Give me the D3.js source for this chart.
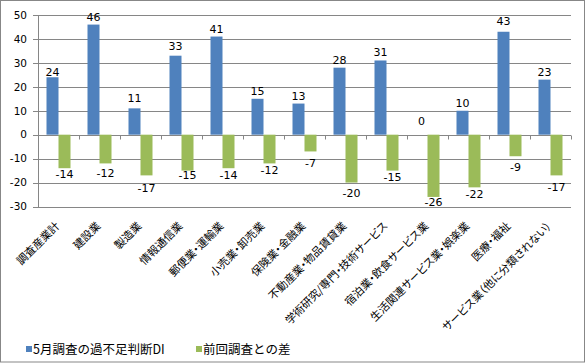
<!DOCTYPE html>
<html lang="ja">
<head>
<meta charset="UTF-8">
<title>過不足判断DI</title>
<script src="https://cdnjs.cloudflare.com/ajax/libs/d3/7.8.5/d3.min.js"></script>
<style>
  body { margin: 0; background: #fff; }
  svg text { font-family: "Noto Sans CJK JP", "DejaVu Sans", sans-serif; fill: #000; }
  svg text.num { font-family: "DejaVu Sans", sans-serif; }
  svg text.cat { font-feature-settings: "palt"; }
</style>
</head>
<body>
<svg id="chart" width="586" height="363"></svg>
<script>
// categories and series
const categories = [
  "調査産業計", "建設業", "製造業", "情報通信業", "郵便業・運輸業", "小売業・卸売業",
  "保険業・金融業", "不動産業・物品賃貸業", "学術研究/専門・技術サービス",
  "宿泊業・飲食サービス業", "生活関連サービス業・娯楽業", "医療・福祉",
  "サービス業（他に分類されない）"
];
const diValues = [24, 46, 11, 33, 41, 15, 13, 28, 31, 0, 10, 43, 23];
const diffValues = [-14, -12, -17, -15, -14, -12, -7, -20, -15, -26, -22, -9, -17];
const seriesNames = ["5月調査の過不足判断DI", "前回調査との差"];
const yTicks = [-30, -20, -10, 0, 10, 20, 30, 40, 50];

// label gap from bar end, px (the original labels sit unevenly)
const diLabelGap = [1.5, 3.5, 6.5, 6, 3.5, 3.5, 3.5, 4, 4, 9.5, 3.5, 6.5, 3.5];
const diffLabelGap = [10, 13.5, 16.5, 8.5, 10.5, 11, 16, 14.5, 10, 9.5, 11, 14.5, 15.5];

const colors = ["#4f81bd", "#9bbb59"];
const gridColor = "#868686";

const svg = d3.select("#chart");

// outer frame
svg.append("rect")
  .attr("x", 0.5).attr("y", 0.5)
  .attr("width", 584).attr("height", 361.5)
  .attr("fill", "none").attr("stroke", "#878787");

const plotL = 38, plotR = 571, plotT = 15, plotB = 207;

const y = d3.scaleLinear().domain([-30, 50]).range([plotB - 0.5, plotT]);
const x = d3.scaleBand().domain(categories).range([plotL, plotR]).paddingInner(0).paddingOuter(0);
const inner = d3.scaleBand().domain([0, 1]).range([8.5, x.bandwidth() - 8.5]);

// gridlines
svg.append("g")
  .selectAll("line")
  .data(yTicks)
  .join("line")
  .attr("x1", plotL - 5).attr("x2", plotR)
  .attr("y1", d => Math.round(y(d)) + 0.5).attr("y2", d => Math.round(y(d)) + 0.5)
  .attr("stroke", gridColor);

// y axis line
svg.append("line")
  .attr("x1", plotL + 0.5).attr("x2", plotL + 0.5)
  .attr("y1", plotT).attr("y2", Math.round(y(-30)) + 0.5)
  .attr("stroke", gridColor);

// y tick labels
svg.append("g")
  .selectAll("text")
  .data(yTicks)
  .join("text")
  .attr("class", "num")
  .attr("x", 27)
  .attr("y", d => y(d))
  .attr("dy", "0.36em")
  .attr("text-anchor", "end")
  .attr("font-size", 10.5)
  .text(d => d);

// x axis ticks at zero line
const zeroY = Math.round(y(0)) + 0.5;
svg.append("g")
  .selectAll("line")
  .data(d3.range(categories.length + 1))
  .join("line")
  .attr("x1", i => Math.round(plotL + i * x.bandwidth()) + 0.5)
  .attr("x2", i => Math.round(plotL + i * x.bandwidth()) + 0.5)
  .attr("y1", zeroY).attr("y2", zeroY + 4)
  .attr("stroke", gridColor);

// bars
const series = [diValues, diffValues];
const gaps = [diLabelGap, diffLabelGap];
series.forEach((vals, s) => {
  const g = svg.append("g");
  g.selectAll("rect")
    .data(vals)
    .join("rect")
    .attr("x", (d, i) => x(categories[i]) + inner(s))
    .attr("width", inner.bandwidth())
    .attr("y", d => y(Math.max(0, d)))
    .attr("height", d => Math.abs(y(d) - y(0)))
    .attr("fill", colors[s]);

  g.selectAll("text")
    .data(vals)
    .join("text")
    .attr("class", "num")
    .attr("x", (d, i) => x(categories[i]) + inner(s) + inner.bandwidth() / 2)
    .attr("y", (d, i) => s === 0 ? y(d) - gaps[s][i] : y(d) + gaps[s][i])
    .attr("text-anchor", "middle")
    .attr("font-size", 11)
    .text(d => d);
});

// rotated category labels
svg.append("g")
  .selectAll("text")
  .data(categories)
  .join("text")
  .attr("class", "cat")
  .attr("transform", d => `translate(${x(d) + x.bandwidth() / 2 - 1},${plotB + 17}) rotate(-45)`)
  .attr("text-anchor", "end")
  .attr("dy", "0.35em")
  .attr("font-size", 11)
  .text(d => d);

// legend
const legend = svg.append("g");
const legendX = [26, 196];
seriesNames.forEach((name, i) => {
  legend.append("rect")
    .attr("x", legendX[i]).attr("y", 346)
    .attr("width", 6).attr("height", 6)
    .attr("fill", colors[i]);
  legend.append("text")
    .attr("x", legendX[i] + 7).attr("y", 354)
    .attr("font-size", 12.5)
    .text(name);
});
</script>
</body>
</html>
